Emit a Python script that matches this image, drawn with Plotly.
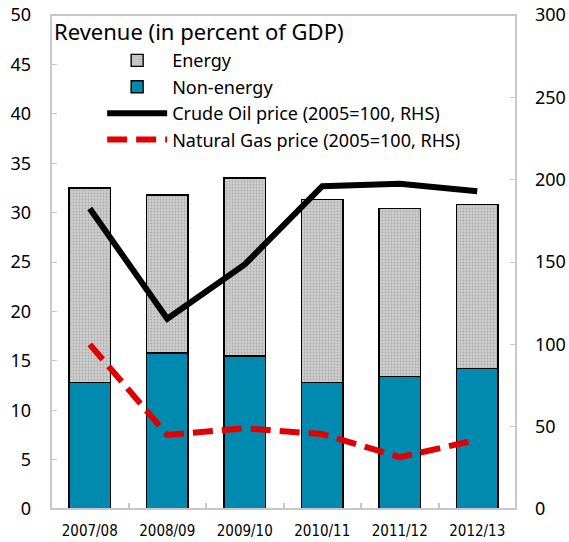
import plotly.graph_objects as go

categories = ["2007/08", "2008/09", "2009/10", "2010/11", "2011/12", "2012/13"]
non_energy = [12.8, 15.8, 15.5, 12.8, 13.4, 14.2]
energy = [19.7, 16.0, 18.0, 18.5, 17.0, 16.6]
oil_price = [182.5, 115.5, 148.5, 196.0, 197.5, 193.0]
gas_price = [100.0, 45.0, 49.0, 45.5, 31.5, 42.0]

left_ticks = [0, 5, 10, 15, 20, 25, 30, 35, 40, 45, 50]
right_ticks = [0, 50, 100, 150, 200, 250, 300]

FONT = "Noto Sans"
FRAME = "#c8c8c8"
fig = go.Figure()

fig.add_trace(go.Bar(
    x=categories, y=non_energy, name="Non-energy",
    marker=dict(color="#008AAF", line=dict(color="black", width=1.4)),
    width=0.54, legendrank=2,
))
fig.add_trace(go.Bar(
    x=categories, y=energy, name="Energy",
    marker=dict(color="#cfcfcf", line=dict(color="black", width=1.4),
                pattern=dict(shape=".", bgcolor="#cdcdcd", fgcolor="#8c8c8c",
                             size=3, solidity=0.3, fillmode="overlay")),
    width=0.54, legendrank=1,
))
fig.add_trace(go.Scatter(
    x=categories, y=oil_price, name="Crude Oil price (2005=100, RHS)",
    mode="lines", line=dict(color="black", width=6), yaxis="y2", legendrank=3,
))
fig.add_trace(go.Scatter(
    x=categories, y=gas_price, name="Natural Gas price (2005=100, RHS)",
    mode="lines", line=dict(color="#e00000", width=6, dash="20px,9px"),
    yaxis="y2", legendrank=4,
))

fig.update_layout(
    width=569, height=542,
    margin=dict(l=51, r=53, t=15, b=33),
    paper_bgcolor="white", plot_bgcolor="white",
    barmode="stack",
    font=dict(family=FONT, color="black"),
    showlegend=True,
    legend=dict(x=0.11, y=0.945, xanchor="left", yanchor="top",
                bgcolor="rgba(0,0,0,0)", font=dict(size=18, family=FONT),
                traceorder="normal", tracegroupgap=0, itemwidth=60),
    xaxis=dict(
        showline=False, automargin=False,
        tickfont=dict(size=15, family="DejaVu Sans Condensed"),
        ticks="inside", tickson="boundaries", ticklen=6, tickcolor=FRAME,
        tickwidth=2, ticklabelstandoff=11, showgrid=False,
        ticklabeloverflow="allow",
    ),
    yaxis=dict(
        range=[0, 50], tickvals=left_ticks, showgrid=False, automargin=False,
        showline=False, ticks="inside", ticklen=6, tickcolor=FRAME,
        tickfont=dict(size=18, family=FONT), zeroline=False,
        ticklabelstandoff=19, ticklabeloverflow="allow",
    ),
    yaxis2=dict(
        range=[0, 300], tickvals=right_ticks, overlaying="y", side="right",
        showgrid=False, showline=False, automargin=False,
        ticks="inside", ticklen=6, tickcolor=FRAME,
        tickfont=dict(size=18, family=FONT), zeroline=False,
        ticklabelstandoff=18, ticklabeloverflow="allow",
    ),
    shapes=[dict(type="rect", xref="paper", yref="paper", x0=0, x1=1, y0=0, y1=1,
                 line=dict(color=FRAME, width=2), layer="above")],
    annotations=[dict(
        text="Revenue (in percent of GDP)", xref="paper", yref="paper",
        x=0.002, y=0.968, xanchor="left", yanchor="middle", showarrow=False,
        font=dict(size=22, family=FONT),
    )],
)

fig.write_html("out.html", config={"displayModeBar": False},
               post_script="document.body.style.margin='0';")
